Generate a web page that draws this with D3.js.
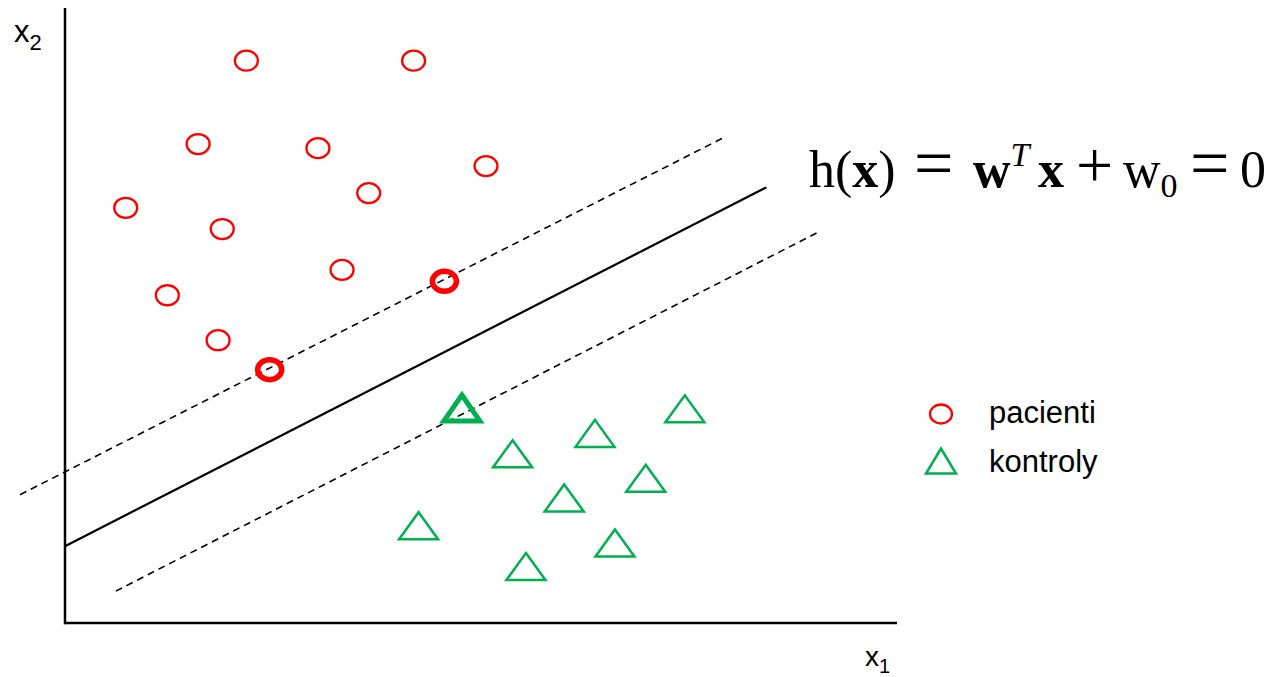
<!DOCTYPE html>
<html>
<head>
<meta charset="utf-8">
<script src="https://cdn.jsdelivr.net/npm/d3@7"></script>
<style>
  body { margin: 0; background: #fff; }
  svg { display: block; }
</style>
</head>
<body>
<svg id="chart" width="1266" height="677"></svg>
<script>
// pacienti (circles), x1 / x2 in chart units
let pacientiX = [2.18, 4.19, 1.60, 3.04, 5.06, 3.65, 0.73, 1.89, 3.33, 1.23, 1.84, 4.56, 2.46];
let pacientiY = [6.88, 6.88, 5.86, 5.81, 5.59, 5.26, 5.08, 4.82, 4.32, 4.01, 3.46, 4.18, 3.10];
let pacientiSV = [0, 0, 0, 0, 0, 0, 0, 0, 0, 0, 0, 1, 1];

// kontroly (triangles)
let kontrolyX = [7.45, 6.37, 5.38, 6.98, 6.00, 4.25, 6.61, 5.54, 4.77];
let kontrolyY = [2.62, 2.32, 2.07, 1.77, 1.53, 1.19, 0.98, 0.69, 2.63];
let kontrolySV = [0, 0, 0, 0, 0, 0, 0, 0, 1];

// separating line and the two margins: [x start, y start, x end, y end]
let hyperplane = [0.00, 0.94, 8.43, 5.33];
let marginUpper = [-0.54, 1.57, 7.90, 5.93];
let marginLower = [0.61, 0.39, 9.05, 4.78];

let legendLabels = ['pacienti', 'kontroly'];

let svg = d3.select('#chart');

let xScale = d3.scaleLinear().domain([0, 10]).range([65, 897]);
let yScale = d3.scaleLinear().domain([0, 7.5]).range([623, 10]);

let pacienti = pacientiX.map((x, i) => ({x: x, y: pacientiY[i], sv: pacientiSV[i]}));
let kontroly = kontrolyX.map((x, i) => ({x: x, y: kontrolyY[i], sv: kontrolySV[i]}));

// axes, drawn as two plain lines (no ticks)
svg.append('line')
    .attr('x1', xScale(0)).attr('y1', yScale(7.5) - 2)
    .attr('x2', xScale(0)).attr('y2', yScale(0) + 1.25)
    .attr('stroke', 'black').attr('stroke-width', 2.5);
svg.append('line')
    .attr('x1', xScale(0)).attr('y1', yScale(0))
    .attr('x2', xScale(10)).attr('y2', yScale(0))
    .attr('stroke', 'black').attr('stroke-width', 2.5);

// lines
let lines = [
    {p: hyperplane, dash: null, w: 2.2},
    {p: marginUpper, dash: '7,5', w: 1.6},
    {p: marginLower, dash: '7,5', w: 1.6}
];
svg.append('g').selectAll('line')
    .data(lines)
    .join('line')
    .attr('x1', d => xScale(d.p[0]))
    .attr('y1', d => yScale(d.p[1]))
    .attr('x2', d => xScale(d.p[2]))
    .attr('y2', d => yScale(d.p[3]))
    .attr('stroke', 'black')
    .attr('stroke-width', d => d.w)
    .attr('stroke-dasharray', d => d.dash);

// circles
svg.append('g').selectAll('ellipse')
    .data(pacienti)
    .join('ellipse')
    .attr('cx', d => xScale(d.x))
    .attr('cy', d => yScale(d.y))
    .attr('rx', d => d.sv ? 12 : 11.5)
    .attr('ry', d => d.sv ? 10 : 10)
    .attr('fill', 'none')
    .attr('stroke', '#ff0000')
    .attr('stroke-width', d => d.sv ? 5.5 : 2.3);

// triangles
function triPath(cx, cy, hw, h) {
    return `M${cx},${cy - h / 2}L${cx + hw},${cy + h / 2}L${cx - hw},${cy + h / 2}Z`;
}
svg.append('g').selectAll('path')
    .data(kontroly)
    .join('path')
    .attr('d', d => d.sv ? triPath(xScale(d.x), yScale(d.y), 18, 26) : triPath(xScale(d.x), yScale(d.y), 19.5, 27))
    .attr('fill', 'none')
    .attr('stroke', '#00b050')
    .attr('stroke-width', d => d.sv ? 5 : 2.5)
    .attr('stroke-linejoin', 'miter');

// axis labels
let ax2 = svg.append('text').attr('x', 14).attr('y', 42)
    .attr('font-family', 'Liberation Sans, Arial, sans-serif').attr('font-size', 31);
ax2.append('tspan').text('x');
ax2.append('tspan').attr('font-size', 22).attr('dy', 8).text('2');

let ax1 = svg.append('text').attr('x', 865).attr('y', 666)
    .attr('font-family', 'Liberation Sans, Arial, sans-serif').attr('font-size', 28);
ax1.append('tspan').text('x');
ax1.append('tspan').attr('font-size', 20).attr('dy', 7).text('1');

// formula, pieces placed one by one to get the wide math spacing
let f = svg.append('text').attr('x', 810).attr('y', 187)
    .attr('font-family', 'Liberation Serif, DejaVu Serif, serif').attr('font-size', 52);
f.append('tspan').attr('x', 809).text('h(');
f.append('tspan').attr('font-weight', 'bold').text('x');
f.append('tspan').text(')');
f.append('tspan').attr('x', 914).attr('font-size', 70).text('=');
f.append('tspan').attr('x', 973).attr('font-size', 52).attr('font-weight', 'bold').text('w');
f.append('tspan').attr('font-style', 'italic').attr('font-size', 34).attr('dy', -21).text('T');
f.append('tspan').attr('x', 1038).attr('font-size', 52).attr('font-weight', 'bold').attr('dy', 21).text('x');
f.append('tspan').attr('x', 1076).attr('font-size', 66).text('+');
f.append('tspan').attr('x', 1123).attr('font-size', 52).text('w');
f.append('tspan').attr('font-size', 34).attr('dy', 10).text('0');
f.append('tspan').attr('x', 1190).attr('dy', -10).attr('font-size', 70).text('=');
f.append('tspan').attr('x', 1240).attr('font-size', 52).text('0');

// legend
let legend = svg.append('g').selectAll('g')
    .data(legendLabels)
    .join('g')
    .attr('transform', (d, i) => `translate(941, ${414 + i * 47})`);
legend.filter((d, i) => i === 0).append('ellipse')
    .attr('rx', 11).attr('ry', 9.5)
    .attr('fill', 'none').attr('stroke', '#ff0000').attr('stroke-width', 2.3);
legend.filter((d, i) => i === 1).append('path')
    .attr('d', triPath(0, 0, 15, 25))
    .attr('fill', 'none').attr('stroke', '#00b050').attr('stroke-width', 2.5);
legend.append('text')
    .attr('x', 48).attr('y', (d, i) => i === 0 ? 9 : 11)
    .attr('font-family', 'Liberation Sans, Arial, sans-serif').attr('font-size', 31)
    .text(d => d);
</script>
</body>
</html>
